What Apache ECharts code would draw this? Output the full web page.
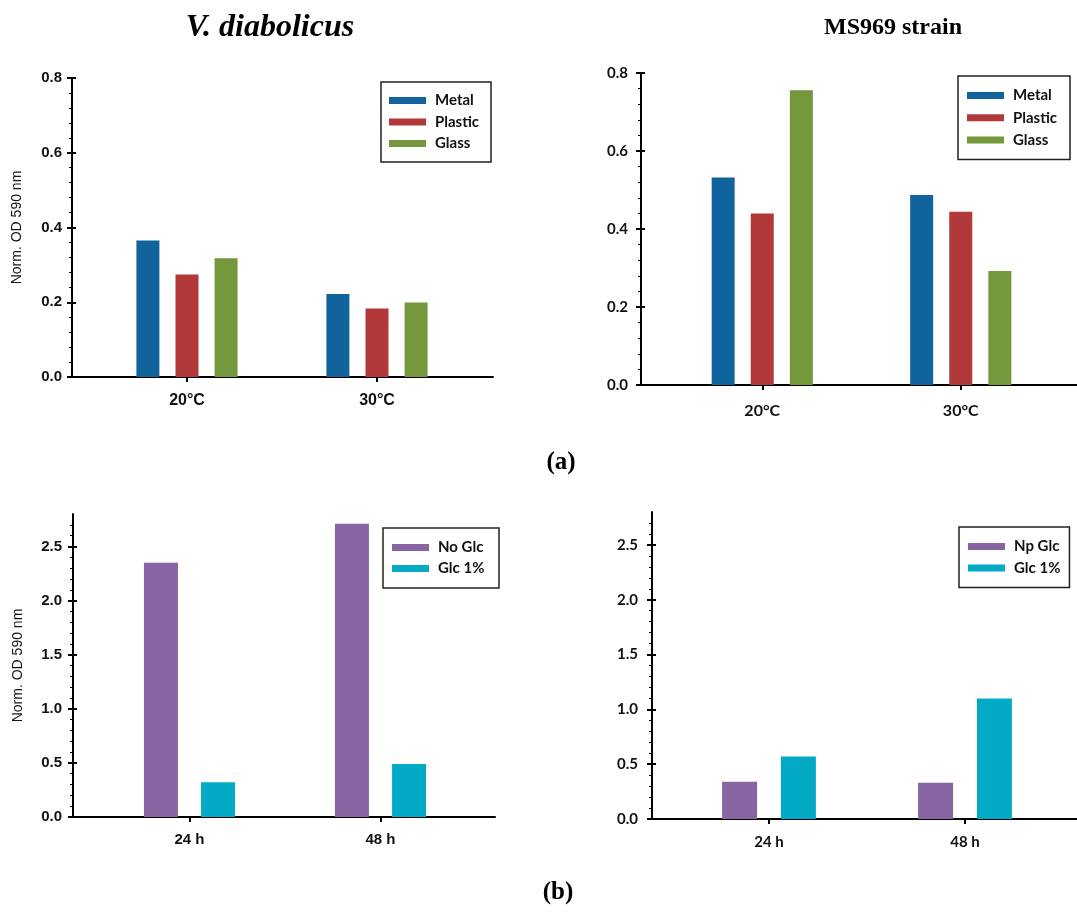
<!DOCTYPE html>
<html>
<head>
<meta charset="utf-8">
<script src="https://cdn.jsdelivr.net/npm/echarts@6/dist/echarts.min.js"></script>
<style>
  html, body { margin: 0; padding: 0; background: #fff; }
  #chart { width: 1077px; height: 914px; }
</style>
</head>
<body>
<div id="chart"></div>
<script>
// categories
const tempCats = ['20°C', '30°C'];
const timeCats = ['24 h', '48 h'];

// tick labels
const ticksA = [0, 0.2, 0.4, 0.6, 0.8];
const ticksB = [0, 0.5, 1.0, 1.5, 2.0, 2.5];

// (a) surface material, V. diabolicus / MS969
const diaMetal = [0.365, 0.222];
const diaPlastic = [0.274, 0.183];
const diaGlass = [0.318, 0.199];
const msMetal = [0.532, 0.487];
const msPlastic = [0.440, 0.444];
const msGlass = [0.756, 0.292];

// (b) glucose, V. diabolicus / MS969
const diaNoGlc = [2.35, 2.71];
const diaGlc = [0.32, 0.49];
const msNpGlc = [0.34, 0.33];
const msGlc = [0.57, 1.10];

const COLORS = {
  metal: '#11649b',
  plastic: '#b1393a',
  glass: '#74983b',
  noglc: '#8864a3',
  glc: '#02aac6',
};

const panels = [
  {
    left: 72, top: 78, width: 421, height: 299, innerLeft: 92, innerWidth: 380,
    cats: tempCats, max: 0.8, interval: 0.2, ticks: ticksA,
    font: 'Liberation Sans', ySize: 15, xSize: 16, yMargin: 10, xMargin: 16,
    name: 'Norm. OD 590 nm', barWidth: 23, barGap: '70%',
    series: [
      { name: 'Metal', data: diaMetal, color: COLORS.metal },
      { name: 'Plastic', data: diaPlastic, color: COLORS.plastic },
      { name: 'Glass', data: diaGlass, color: COLORS.glass },
    ],
    legend: { left: 381, top: 82, pad: [11, 10, 11, 8], gap: 6.5, textWidth: 46 },
  },
  {
    left: 641, top: 73, width: 436, height: 312, innerLeft: 663, innerWidth: 397,
    cats: tempCats, max: 0.8, interval: 0.2, ticks: ticksA,
    font: 'Lato', ySize: 15, xSize: 16, yMargin: 13, xMargin: 18,
    name: '', barWidth: 23, barGap: '70%',
    series: [
      { name: 'Metal', data: msMetal, color: COLORS.metal },
      { name: 'Plastic', data: msPlastic, color: COLORS.plastic },
      { name: 'Glass', data: msGlass, color: COLORS.glass },
    ],
    legend: { left: 958, top: 76, pad: [12, 9, 12, 9], gap: 7.3, textWidth: 48 },
  },
  {
    left: 73, top: 514, width: 422, height: 303, innerLeft: 94, innerWidth: 382,
    cats: timeCats, max: 2.8, interval: 0.5, ticks: ticksB,
    font: 'Liberation Sans', ySize: 15, xSize: 15, yMargin: 11, xMargin: 15,
    name: 'Norm. OD 590 nm', barWidth: 34, barGap: '68%',
    series: [
      { name: 'No Glc', data: diaNoGlc, color: COLORS.noglc },
      { name: 'Glc 1%', data: diaGlc, color: COLORS.glc },
    ],
    legend: { left: 383, top: 528, pad: [12, 10, 12, 9], gap: 6, textWidth: 51 },
  },
  {
    left: 652, top: 512, width: 425, height: 307, innerLeft: 671, innerWidth: 392,
    cats: timeCats, max: 2.8, interval: 0.5, ticks: ticksB,
    font: 'Lato', ySize: 15, xSize: 15, yMargin: 14, xMargin: 16,
    name: '', barWidth: 35, barGap: '68%',
    series: [
      { name: 'Np Glc', data: msNpGlc, color: COLORS.noglc },
      { name: 'Glc 1%', data: msGlc, color: COLORS.glc },
    ],
    legend: { left: 959, top: 527, pad: [12, 9, 12, 9], gap: 6.5, textWidth: 45 },
  },
];

const black = { color: '#000', width: 2 };
const grid = [];
const xAxis = [];
const yAxis = [];
const series = [];
const legend = [];

panels.forEach((p, i) => {
  const fi = i * 2;
  const ii = i * 2 + 1;
  const labelStyle = { fontFamily: p.font, fontWeight: 'bold', color: '#111' };

  // frame grid: full axis lines, y labels
  grid.push({ left: p.left, top: p.top, width: p.width, height: p.height });
  // inner grid: holds the bars so the category centres line up
  grid.push({ left: p.innerLeft, top: p.top, width: p.innerWidth, height: p.height });

  xAxis.push({
    gridIndex: fi, type: 'value', min: 0, max: 1,
    axisLine: { show: true, lineStyle: black },
    axisTick: { show: false }, axisLabel: { show: false }, splitLine: { show: false },
  });
  xAxis.push({
    gridIndex: ii, type: 'category', data: p.cats,
    axisLine: { show: false },
    axisTick: { show: true, alignWithLabel: true, length: 5, lineStyle: black },
    axisLabel: { ...labelStyle, fontSize: p.xSize, margin: p.xMargin },
    splitLine: { show: false },
  });

  yAxis.push({
    gridIndex: fi, type: 'value', min: 0, max: p.max, interval: p.interval,
    name: p.name, nameLocation: 'middle', nameGap: 48,
    nameTextStyle: { fontFamily: 'Liberation Sans', fontSize: 14, color: '#111' },
    axisLine: { show: true, lineStyle: black },
    axisTick: { show: true, length: 5, lineStyle: black, customValues: p.ticks },
    minorTick: { show: true, splitNumber: 5, length: 3, lineStyle: { color: '#000', width: 1 } },
    axisLabel: {
      ...labelStyle, fontSize: p.ySize, margin: p.yMargin, customValues: p.ticks,
      formatter: (v) => v.toFixed(1),
    },
    splitLine: { show: false },
  });
  // inner value axis: only the inward half of the crossing major ticks
  yAxis.push({
    gridIndex: ii, type: 'value', min: 0, max: p.max, interval: p.interval,
    offset: p.innerLeft - p.left,
    axisLine: { show: false },
    axisTick: { show: true, inside: true, length: 4, lineStyle: black, customValues: p.ticks },
    axisLabel: { show: false },
    splitLine: { show: false },
  });

  p.series.forEach((s) => {
    series.push({
      type: 'bar', name: s.name, data: s.data,
      xAxisIndex: ii, yAxisIndex: ii,
      barWidth: p.barWidth, barGap: p.barGap,
      itemStyle: { color: s.color },
    });
  });

  legend.push({
    data: p.series.map((s) => s.name),
    orient: 'vertical', left: p.legend.left, top: p.legend.top,
    padding: p.legend.pad, itemGap: p.legend.gap,
    itemWidth: 37, itemHeight: 7, icon: 'rect',
    borderColor: '#222', borderWidth: 1.5, borderRadius: 0,
    selectedMode: false,
    textStyle: {
      fontFamily: 'Lato', fontWeight: 'bold', fontSize: 15, color: '#111',
      lineHeight: 14, width: p.legend.textWidth, padding: [0, 0, 0, 4],
    },
  });
});

const textTitle = (str, x, y, font) => ({
  type: 'text', x, y,
  style: { text: str, align: 'center', verticalAlign: 'middle', fill: '#000', font },
});

const chart = echarts.init(document.getElementById('chart'));
chart.setOption({
  animation: false,
  backgroundColor: '#fff',
  grid, xAxis, yAxis, series, legend,
  graphic: [
    textTitle('V. diabolicus', 270, 28, 'italic bold 32px "Liberation Serif"'),
    textTitle('MS969 strain', 893, 28, 'bold 24px "Liberation Serif"'),
    textTitle('(a)', 561, 463, 'bold 25px "Liberation Serif"'),
    textTitle('(b)', 558, 893, 'bold 25px "Liberation Serif"'),
  ],
});
</script>
</body>
</html>
